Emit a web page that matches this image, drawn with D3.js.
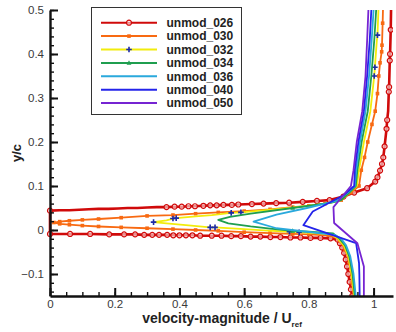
<!DOCTYPE html>
<html>
<head>
<meta charset="utf-8">
<script src="https://cdn.jsdelivr.net/npm/d3@7"></script>
<style>
  body { margin: 0; background: #fff; }
  svg { display: block; font-family: "Liberation Sans", Arial, sans-serif; }
</style>
</head>
<body>
<div id="chart"></div>
<script>
var width = 396
var height = 332
var margin = { top: 10, right: 3, bottom: 36, left: 50 };

// series names and values: [velocity, y/c, marker flag]
var names = ["unmod_026", "unmod_030", "unmod_032", "unmod_034", "unmod_036", "unmod_040", "unmod_050"];

var unmod026 = [
  [0.934,-0.15,1],[0.930,-0.135,1],[0.926,-0.118,1],[0.922,-0.1,1],[0.918,-0.083,1],[0.914,-0.067,1],
  [0.909,-0.052,1],[0.903,-0.04,1],[0.896,-0.03,1],[0.889,-0.022,1],
  [0.867,-0.019,1],[0.836,-0.018,1],[0.805,-0.018,1],[0.774,-0.017,1],[0.743,-0.017,1],[0.712,-0.016,1],
  [0.681,-0.016,1],[0.650,-0.015,1],[0.620,-0.015,1],[0.590,-0.014,1],[0.560,-0.014,1],[0.530,-0.013,1],
  [0.500,-0.013,1],[0.464,-0.013,1],[0.440,-0.012,1],[0.420,-0.012,1],[0.400,-0.012,1],[0.381,-0.012,1],
  [0.362,-0.011,1],[0.337,-0.011,1],[0.316,-0.011,1],[0.291,-0.011,1],[0.263,-0.010,1],[0.229,-0.010,1],
  [0.183,-0.010,1],[0.124,-0.009,1],[0.062,-0.009,1],[0.0,-0.009,1],
  [0.0,0.044,1],[0.03,0.045,0],[0.06,0.045,0],[0.09,0.046,0],[0.12,0.047,0],[0.15,0.048,0],[0.18,0.048,0],
  [0.21,0.049,0],[0.24,0.050,0],[0.27,0.050,0],[0.30,0.051,0],[0.33,0.052,0],[0.36,0.052,1],[0.385,0.053,1],
  [0.407,0.053,1],[0.428,0.054,1],[0.448,0.054,1],[0.474,0.055,1],[0.495,0.056,1],[0.515,0.056,1],
  [0.536,0.057,1],[0.562,0.057,1],[0.582,0.058,1],[0.624,0.059,1],[0.66,0.060,1],[0.699,0.061,1],
  [0.739,0.062,1],[0.781,0.064,1],[0.825,0.066,1],[0.864,0.068,1],[0.907,0.076,1],[0.94,0.085,1],
  [0.98,0.095,1],[1.005,0.11,1],[1.012,0.12,1],[1.02,0.135,1],[1.026,0.15,1],[1.03,0.165,1],
  [1.034,0.19,1],[1.037,0.21,0],[1.04,0.23,1],[1.042,0.25,1],[1.045,0.27,0],[1.047,0.314,1],
  [1.048,0.325,1],[1.05,0.385,1],[1.051,0.40,1],[1.053,0.455,1],[1.054,0.5,0]
];

var unmod030 = [
  [0.938,-0.15,0],[0.934,-0.12,1],[0.93,-0.1,0],[0.925,-0.075,1],[0.92,-0.06,0],[0.912,-0.045,1],
  [0.905,-0.035,0],[0.895,-0.024,1],[0.885,-0.018,0],[0.86,-0.012,1],[0.8,-0.01,1],[0.75,-0.009,1],
  [0.68,-0.007,1],[0.6,-0.005,1],[0.52,-0.002,1],[0.45,0.0,1],[0.38,0.002,1],[0.3,0.004,1],
  [0.22,0.006,1],[0.15,0.008,1],[0.1,0.01,1],[0.06,0.012,1],[0.03,0.014,1],[0.012,0.017,1],
  [0.03,0.019,1],[0.06,0.021,1],[0.1,0.023,1],[0.15,0.025,1],[0.22,0.028,1],[0.3,0.032,1],
  [0.38,0.034,1],[0.45,0.037,1],[0.52,0.04,1],[0.6,0.043,1],[0.68,0.047,1],[0.75,0.052,1],
  [0.8,0.055,1],[0.85,0.06,1],[0.9,0.068,1],[0.93,0.085,1],[0.955,0.1,1],[0.962,0.136,1],
  [0.972,0.165,1],[0.982,0.2,1],[0.995,0.24,1],[1.005,0.27,1],[1.012,0.31,1],[1.016,0.35,1],
  [1.02,0.38,1],[1.025,0.405,1],[1.026,0.42,1],[1.028,0.47,1],[1.029,0.5,0]
];

var unmod032 = [
  [0.94,-0.15,0],[0.932,-0.1,0],[0.922,-0.06,0],[0.908,-0.035,0],[0.89,-0.02,0],[0.87,-0.01,0],
  [0.77,-0.005,1],[0.74,-0.004,1],[0.66,-0.001,0],[0.6,0.002,0],[0.51,0.006,1],[0.495,0.006,1],
  [0.42,0.011,0],[0.36,0.015,0],[0.32,0.018,1],[0.36,0.022,0],[0.38,0.026,1],[0.39,0.027,1],
  [0.45,0.031,0],[0.5,0.034,0],[0.56,0.039,1],[0.59,0.040,1],[0.65,0.044,0],[0.75,0.051,0],
  [0.86,0.061,0],[0.9,0.068,0],[0.925,0.085,0],[0.948,0.1,0],[0.955,0.136,0],[0.97,0.2,0],
  [0.99,0.27,0],[1.002,0.35,1],[1.004,0.37,1],[1.01,0.43,0],[1.012,0.443,1],[1.015,0.5,0]
];

var unmod034 = [
  [0.942,-0.15,1],[0.935,-0.1,0],[0.925,-0.06,0],[0.912,-0.035,0],[0.895,-0.02,0],[0.875,-0.008,0],
  [0.8,-0.004,0],[0.75,-0.002,1],[0.68,0.003,0],[0.62,0.008,0],[0.551,0.015,0],[0.52,0.023,0],
  [0.556,0.03,0],[0.62,0.037,0],[0.75,0.05,1],[0.87,0.062,0],[0.9,0.068,0],[0.925,0.085,0],
  [0.945,0.1,0],[0.95,0.136,0],[0.963,0.2,0],[0.982,0.27,0],[0.993,0.35,0],[1.002,0.43,0],[1.008,0.5,0]
];

var unmod036 = [
  [0.945,-0.15,0],[0.938,-0.1,0],[0.928,-0.06,0],[0.915,-0.035,0],[0.9,-0.02,0],[0.88,-0.011,0],
  [0.794,-0.004,0],[0.70,0.004,0],[0.629,0.019,0],[0.70,0.035,0],[0.794,0.05,0],[0.886,0.066,0],
  [0.92,0.085,0],[0.942,0.1,0],[0.946,0.136,0],[0.958,0.2,0],[0.975,0.27,0],[0.986,0.35,0],
  [0.994,0.43,0],[1.0,0.5,0]
];

var unmod040 = [
  [0.957,-0.15,0],[0.956,-0.1,0],[0.955,-0.075,0],[0.946,-0.03,0],[0.783,0.011,0],[0.812,0.042,0],
  [0.907,0.079,0],[0.94,0.1,0],[0.942,0.136,0],[0.953,0.2,0],[0.97,0.27,0],[0.98,0.35,0],
  [0.988,0.43,0],[0.993,0.5,0]
];

var unmod050 = [
  [0.97,-0.15,0],[0.97,-0.083,0],[0.95,-0.03,0],[0.878,0.016,0],[0.876,0.052,0],[0.93,0.1,0],
  [0.938,0.136,0],[0.948,0.2,0],[0.965,0.27,0],[0.975,0.35,0],[0.98,0.43,0],[0.984,0.5,0]
];

var seriesValues = [unmod026, unmod030, unmod032, unmod034, unmod036, unmod040, unmod050];
var colors = ["#d00a0a", "#f86a12", "#f2ec0c", "#1f9e4f", "#2aa9dc", "#2424ea", "#7624d2"];
var markers = ["circle", "square", "plus", "triangle", null, null, null];

var xTicks = [0, 0.2, 0.4, 0.6, 0.8, 1];
var yTicks = [-0.1, 0, 0.1, 0.2, 0.3, 0.4, 0.5];

var svg = d3.select("#chart").append("svg")
    .attr("width", width)
    .attr("height", height);

var x = d3.scaleLinear()
    .domain([0, 1.06])
    .range([margin.left, width - margin.right]);
var y = d3.scaleLinear()
    .domain([-0.15, 0.5])
    .range([height - margin.bottom, margin.top]);

svg.append("clipPath").attr("id", "plot-clip")
  .append("rect")
    .attr("x", x(0) - 4).attr("y", y(0.5))
    .attr("width", x(1.06) - x(0) + 4).attr("height", y(-0.15) - y(0.5));

// lines
var line = d3.line()
    .x(function(d) { return x(d[0]); })
    .y(function(d) { return y(d[1]); });

var plot = svg.append("g").attr("clip-path", "url(#plot-clip)");

function drawMarker(sel, kind, color) {
    if (kind == "circle") {
        sel.append("circle").attr("r", 2.5)
            .attr("fill", "#fff").attr("fill-opacity", 0.55)
            .attr("stroke", color).attr("stroke-width", 1.2);
    } else if (kind == "square") {
        sel.append("rect").attr("x", -1.8).attr("y", -1.8).attr("width", 3.6).attr("height", 3.6)
            .attr("fill", color);
    } else if (kind == "plus") {
        sel.append("path").attr("d", "M-2.8,0H2.8M0,-2.8V2.8")
            .attr("stroke", "#1c2aa8").attr("stroke-width", 1.6);
    } else if (kind == "triangle") {
        sel.append("path").attr("d", "M0,-2.6L2.4,1.8H-2.4Z").attr("fill", color);
    }
}

seriesValues.forEach(function(vals, i) {
    plot.append("path")
        .datum(vals)
        .attr("fill", "none")
        .attr("stroke", colors[i])
        .attr("stroke-width", i == 0 ? 2.6 : 1.8)
        .attr("stroke-linejoin", "round")
        .attr("d", line);

    if (markers[i]) {
        var pts = plot.selectAll(".m" + i)
            .data(vals.filter(function(d) { return d[2] == 1; }))
            .enter().append("g")
            .attr("class", "m" + i)
            .attr("transform", function(d) { return "translate(" + x(d[0]) + "," + y(d[1]) + ")"; });
        pts.each(function() { drawMarker(d3.select(this), markers[i], colors[i]); });
    }
});

// axes: major + minor ticks pointing inwards
var xMinor = d3.range(0, 21).map(function(k) { return k * 0.05; });
var yMinor = d3.range(-7, 26).map(function(k) { return k * 0.02; });

svg.append("g")
    .attr("transform", "translate(0," + y(-0.15) + ")")
    .call(d3.axisBottom(x).tickValues(xMinor).tickSizeInner(-4).tickSizeOuter(0).tickFormat(""))
    .call(function(g) { g.select(".domain").remove(); });

svg.append("g")
    .attr("transform", "translate(" + x(0) + ",0)")
    .call(d3.axisLeft(y).tickValues(yMinor).tickSizeInner(-4).tickSizeOuter(0).tickFormat(""))
    .call(function(g) { g.select(".domain").remove(); });

var xAxis = svg.append("g")
    .attr("class", "x axis")
    .attr("transform", "translate(0," + y(-0.15) + ")")
    .call(d3.axisBottom(x).tickValues(xTicks).tickSizeInner(-8).tickSizeOuter(0).tickPadding(4)
        .tickFormat(function(d) { return d == 0 || d == 1 ? d3.format("d")(d) : d3.format(".1f")(d); }));

var yAxis = svg.append("g")
    .attr("class", "y axis")
    .attr("transform", "translate(" + x(0) + ",0)")
    .call(d3.axisLeft(y).tickValues(yTicks).tickSizeInner(-8).tickSizeOuter(0).tickPadding(6)
        .tickFormat(function(d) { return d == 0 ? "0" : d3.format(".1f")(d); }));

svg.selectAll(".tick line").attr("stroke", "#111").attr("stroke-width", 1.4);
svg.selectAll(".axis .tick line").attr("stroke-width", 2);
svg.selectAll(".axis .domain").attr("stroke", "#111").attr("stroke-width", 2.4);
svg.selectAll(".axis text")
    .attr("font-size", "11.5px")
    .attr("fill", "#3a3a3a")
    .attr("font-family", "Liberation Sans, Arial, sans-serif");

// axis titles
svg.append("text")
    .attr("transform", "translate(21," + ((y(0.5) + y(-0.15)) / 2) + ") rotate(-90)")
    .attr("text-anchor", "middle")
    .attr("font-size", "13px")
    .attr("font-weight", "bold")
    .attr("fill", "#222")
    .text("y/c");

var xTitle = svg.append("text")
    .attr("x", 222)
    .attr("y", 323)
    .attr("text-anchor", "middle")
    .attr("font-size", "14px")
    .attr("font-weight", "bold")
    .attr("fill", "#222");
xTitle.append("tspan").text("velocity-magnitude / U");
xTitle.append("tspan").attr("font-size", "8px").attr("dy", 4).text("ref");

// legend
var legend = svg.append("g").attr("transform", "translate(91.5,7.5)");
legend.append("rect")
    .attr("width", 150).attr("height", 107)
    .attr("fill", "#fff").attr("stroke", "#333").attr("stroke-width", 1);

names.forEach(function(n, i) {
    var row = legend.append("g").attr("transform", "translate(0," + (15.2 + i * 13.4) + ")");
    row.append("line")
        .attr("x1", 9.5).attr("x2", 65.5)
        .attr("stroke", colors[i]).attr("stroke-width", 2);
    if (markers[i]) {
        var m = row.append("g").attr("transform", "translate(37.5,0)");
        drawMarker(m, markers[i], colors[i]);
    }
    row.append("text")
        .attr("x", 75)
        .attr("y", 4.3)
        .attr("font-size", "12px")
        .attr("font-weight", "bold")
        .attr("fill", "#222")
        .text(n);
});
</script>
</body>
</html>
